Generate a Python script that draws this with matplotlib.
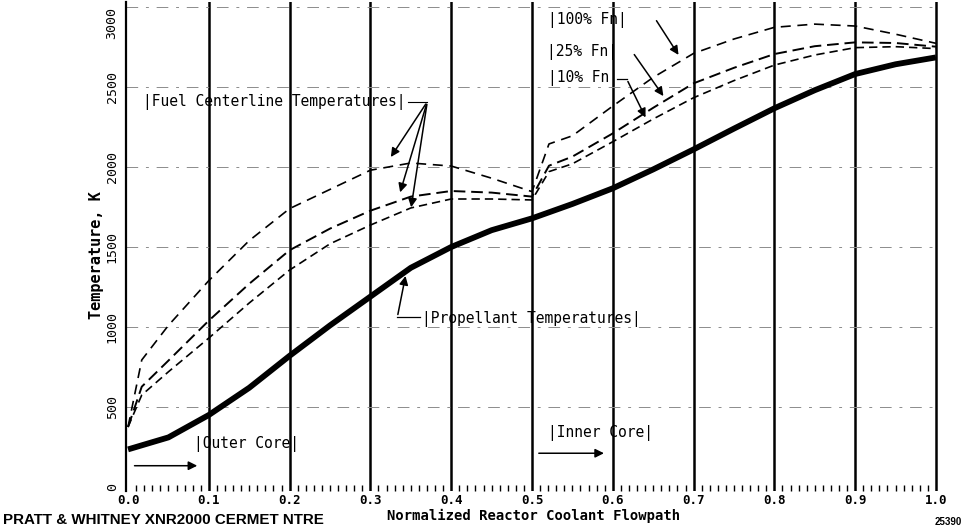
import matplotlib
matplotlib.use("Agg")
import matplotlib.pyplot as plt
from matplotlib.ticker import MultipleLocator

# --- data ---
x_fuel = [0.0, 0.017, 0.05, 0.1, 0.15, 0.2, 0.25, 0.3, 0.35, 0.4, 0.45, 0.5,
          0.521, 0.55, 0.6, 0.65, 0.7, 0.75, 0.8, 0.85, 0.9, 0.95, 1.0]
fuel_100 = [375, 794, 1010, 1290, 1540, 1740, 1860, 1980, 2025, 2006, 1930, 1846,
            2144, 2195, 2381, 2560, 2710, 2800, 2873, 2893, 2881, 2830, 2773]
fuel_25 = [375, 627, 790, 1040, 1270, 1480, 1615, 1727, 1815, 1850, 1840, 1815,
           2008, 2065, 2210, 2370, 2523, 2620, 2706, 2755, 2779, 2775, 2752]
fuel_10 = [375, 575, 720, 931, 1150, 1356, 1520, 1637, 1744, 1800, 1800, 1794,
           1971, 2020, 2158, 2300, 2433, 2540, 2637, 2700, 2746, 2752, 2740]

x_prop = [0.0, 0.05, 0.1, 0.15, 0.2, 0.25, 0.3, 0.35, 0.4, 0.45, 0.5,
          0.55, 0.6, 0.65, 0.7, 0.75, 0.8, 0.85, 0.9, 0.95, 1.0]
propellant = [235, 310, 450, 620, 820, 1010, 1190, 1370, 1500, 1605, 1679,
              1769, 1867, 1985, 2110, 2240, 2367, 2480, 2581, 2642, 2685]

x_ticks = [0.0, 0.1, 0.2, 0.3, 0.4, 0.5, 0.6, 0.7, 0.8, 0.9, 1.0]
x_tick_labels = ["0.0", "0.1", "0.2", "0.3", "0.4", "0.5", "0.6", "0.7", "0.8", "0.9", "1.0"]
y_ticks = [0, 500, 1000, 1500, 2000, 2500, 3000]
y_tick_labels = ["0", "500", "1000", "1500", "2000", "2500", "3000"]

mono = "DejaVu Sans Mono"

fig = plt.figure(figsize=(9.64, 5.31), dpi=100)
ax = fig.add_axes([125.6 / 964, 40 / 531, 812.8 / 964, 488.8 / 531])
ax.set_xlim(-0.003, 1.003)
ax.set_ylim(-25, 3030)

# grid: solid verticals, broken dash-dot horizontals
for xv in x_ticks[1:]:
    ax.axvline(xv, color="black", lw=1.8, zorder=1)
for yv in y_ticks[1:]:
    ax.axhline(yv, color="0.55", lw=0.7, ls=(0, (12, 8, 3, 8)), zorder=1)

# curves
ax.plot(x_prop, propellant, color="black", lw=4.2, solid_capstyle="butt", zorder=3)
ax.plot(x_fuel, fuel_100, color="black", lw=1.2, ls=(0, (6, 4)), zorder=3)
ax.plot(x_fuel, fuel_25, color="black", lw=1.4, ls=(0, (6, 3)), zorder=3)
ax.plot(x_fuel, fuel_10, color="black", lw=1.2, ls=(0, (5, 3)), zorder=3)

# axes styling
for side in ["top", "right", "bottom"]:
    ax.spines[side].set_visible(False)
ax.spines["left"].set_linewidth(1.6)

ax.set_xticks(x_ticks)
ax.set_xticklabels(x_tick_labels, fontfamily=mono, fontweight="bold", fontsize=9)
ax.xaxis.set_minor_locator(MultipleLocator(0.01))
ax.tick_params(axis="x", which="major", direction="in", length=0, pad=2.5)
ax.tick_params(axis="x", which="minor", direction="in", length=4, width=1.0)
ax.set_yticks(y_ticks)
ax.set_yticklabels(y_tick_labels, fontfamily=mono, fontsize=9.5, rotation=90, va="center")
ax.get_yticklabels()[-1].set_va("top")
ax.tick_params(axis="y", length=0, pad=5)

fig.text(534 / 964, 1 - 516 / 531, "Normalized Reactor Coolant Flowpath",
         ha="center", va="center", fontfamily=mono, fontweight="bold", fontsize=10)
fig.text(97 / 964, 1 - 255 / 531, "Temperature, K", rotation=90,
         ha="center", va="center", fontfamily=mono, fontweight="bold", fontsize=11)
fig.text(3 / 964, 1 - 520 / 531, "PRATT & WHITNEY XNR2000 CERMET NTRE",
         ha="left", va="center", fontfamily="Liberation Sans", fontweight="bold", fontsize=10.9)
fig.text(962 / 964, 1 - 522 / 531, "25390", ha="right", va="center",
         fontfamily="Liberation Sans", fontweight="bold", fontsize=7)

# annotations
tkw = dict(fontfamily=mono, fontsize=10.5, va="center", ha="left", zorder=5)
akw = dict(arrowstyle="-|>", color="black", lw=1.1, mutation_scale=13)

ax.text(0.019, 2406, "|Fuel Centerline Temperatures|", **tkw)
ax.plot([0.347, 0.3704], [2408, 2408], color="black", lw=0.8)
for hx, hy in [(0.3234, 2048), (0.3358, 1825), (0.3499, 1731)]:
    ax.annotate("", xy=(hx, hy), xytext=(0.3704, 2408), arrowprops=akw)

ax.text(0.52, 2919, "|100% Fn|", **tkw)
ax.annotate("", xy=(0.6832, 2686), xytext=(0.6522, 2929), arrowprops=akw)
ax.text(0.519, 2719, "|25% Fn|", **tkw)
ax.annotate("", xy=(0.6646, 2429), xytext=(0.6246, 2717), arrowprops=akw)
ax.text(0.52, 2556, "|10% Fn|", **tkw)
ax.plot([0.6048, 0.6172], [2550, 2550], color="black", lw=0.9)
ax.annotate("", xy=(0.6420, 2294), xytext=(0.6172, 2550), arrowprops=akw)

ax.text(0.364, 1050, "|Propellant Temperatures|", **tkw)
ax.plot([0.3614, 0.3333], [1061, 1061], color="black", lw=0.9)
ax.annotate("", xy=(0.3441, 1336), xytext=(0.3333, 1061), arrowprops=akw)

ax.text(0.082, 269, "|Outer Core|", **tkw)
ax.annotate("", xy=(0.0891, 133), xytext=(0.0046, 133), arrowprops=akw)
ax.text(0.52, 338, "|Inner Core|", **tkw)
ax.annotate("", xy=(0.5925, 211), xytext=(0.505, 211), arrowprops=akw)

fig.savefig("out.png", dpi=100)
